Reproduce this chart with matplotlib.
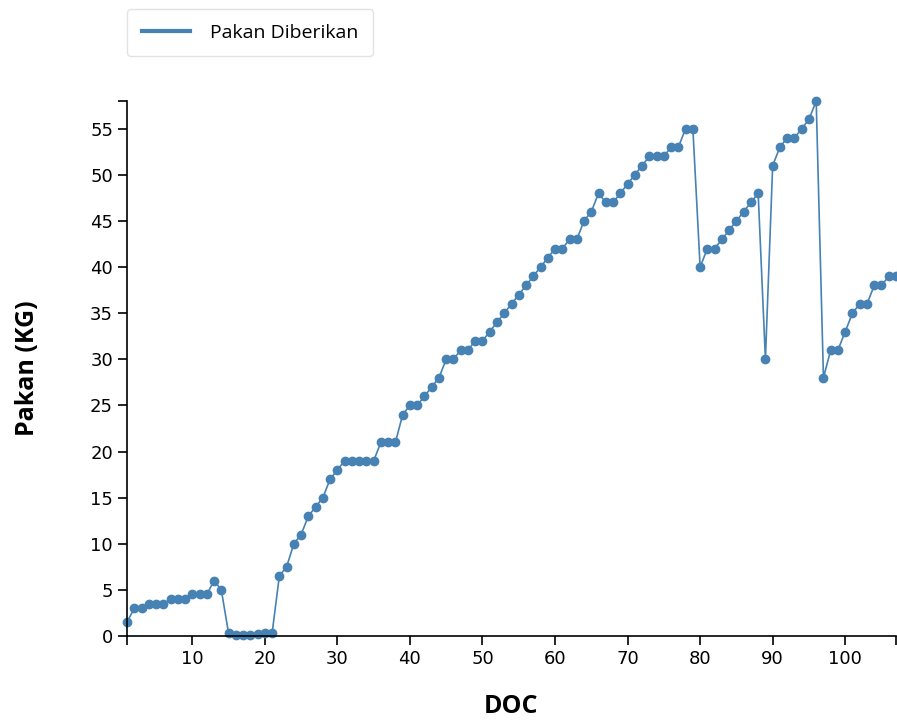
import matplotlib
matplotlib.use("Agg")
import matplotlib.pyplot as plt
from matplotlib.lines import Line2D

# daily feed given (kg) per DOC
doc = list(range(1, 108))
pakan = [
    1.5, 3, 3, 3.5, 3.5, 3.5, 4, 4, 4, 4.5,
    4.5, 4.5, 6, 5, 0.3, 0.1, 0.1, 0.1, 0.2, 0.3,
    0.3, 6.5, 7.5, 10, 11, 13, 14, 15, 17, 18,
    19, 19, 19, 19, 19, 21, 21, 21, 24, 25,
    25, 26, 27, 28, 30, 30, 31, 31, 32, 32,
    33, 34, 35, 36, 37, 38, 39, 40, 41, 42,
    42, 43, 43, 45, 46, 48, 47, 47, 48, 49,
    50, 51, 52, 52, 52, 53, 53, 55, 55, 40,
    42, 42, 43, 44, 45, 46, 47, 48, 30, 51,
    53, 54, 54, 55, 56, 58, 28, 31, 31, 33,
    35, 36, 36, 38, 38, 39, 39,
]
color = "#4682b4"

fig = plt.figure(figsize=(8.97, 7.21), dpi=100)
ax = fig.add_axes([127 / 897, 1 - 636 / 721, (896 - 127) / 897, (636 - 101) / 721])

ax.plot(doc, pakan, color=color, lw=1.2, marker="o", markersize=6, clip_on=False)

ax.set_xlim(1, 107)
ax.set_ylim(0, 58)
ax.set_xticks(range(10, 101, 10))
ax.set_yticks(range(0, 56, 5))
# outer ticks at the ends of the axis lines
ax.set_xticks([1, 107], minor=True)
ax.set_yticks([0, 58], minor=True)
ax.tick_params(which="both", labelsize=13, length=6.5, width=1.2)
for s in ["top", "right"]:
    ax.spines[s].set_visible(False)
for s in ["left", "bottom"]:
    ax.spines[s].set_linewidth(1.2)

ax.set_xlabel("DOC", fontsize=18, fontweight="bold", family="Open Sans", labelpad=19)
ax.set_ylabel("Pakan (KG)", fontsize=18, fontweight="bold", family="Open Sans", labelpad=36)

handle = Line2D([], [], color=color, lw=3)
leg = fig.legend([handle], ["Pakan Diberikan"], loc="upper left",
                 bbox_to_anchor=(127 / 897, 1 - 9 / 721), borderaxespad=0,
                 handlelength=2.5, prop={"family": "Open Sans", "size": 14},
                 borderpad=0.75, handletextpad=1.0, fancybox=True)
leg.get_frame().set_edgecolor("#dddddd")

fig.savefig("out.png", dpi=100)
